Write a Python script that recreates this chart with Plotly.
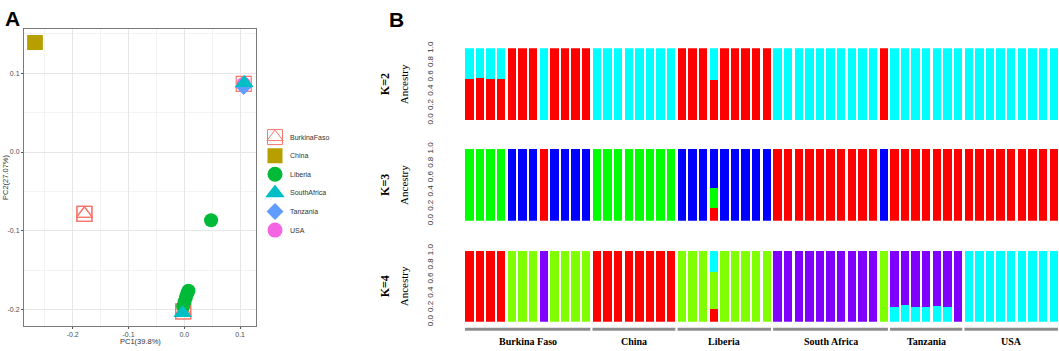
import plotly.graph_objects as go

# ---------------- Panel A data (PCA) ----------------
pca_pops = ["BurkinaFaso", "China", "Liberia", "SouthAfrica", "Tanzania", "USA"]
pca_colors = ["#F8766D", "#B79F00", "#00BA38", "#00BFC4", "#619CFF", "#F564E3"]

burkina_pc1 = [-0.179, -0.179, -0.002, -0.002, 0.1065]
burkina_pc2 = [-0.0785, -0.0785, -0.2025, -0.2025, 0.0865]
china_pc1 = [-0.2676, -0.2676, -0.2676]
china_pc2 = [0.139, 0.139, 0.139]
liberia_pc1 = [0.048, 0.0075, 0.0055, 0.003, 0.0005, -0.002]
liberia_pc2 = [-0.0867, -0.176, -0.179, -0.184, -0.19, -0.196]
southafrica_pc1 = [0.1075, 0.1075, -0.003]
southafrica_pc2 = [0.0875, 0.0875, -0.2045]
tanzania_pc1 = [0.1065, 0.1065]
tanzania_pc2 = [0.0825, 0.0825]
usa_pc1 = [0.1065, 0.1065]
usa_pc2 = [0.0865, 0.0865]

pc1_ticks = [-0.2, -0.1, 0.0, 0.1]
pc2_ticks = [-0.2, -0.1, 0.0, 0.1]

# ---------------- Panel B data (admixture) ----------------
groups = ["Burkina Faso", "China", "Liberia", "South Africa", "Tanzania", "USA"]
group_sizes = [12, 8, 9, 11, 7, 9]

k2_red = [0.563, 0.581, 0.563, 0.563, 1, 1, 1, 0, 1, 1, 1, 1,
          0, 0, 0, 0, 0, 0, 0, 0,
          1, 1, 1, 0.559, 1, 1, 1, 1, 1,
          0, 0, 0, 0, 0, 0, 0, 0, 0, 0, 1,
          0, 0, 0, 0, 0, 0, 0,
          0, 0, 0, 0, 0, 0, 0, 0, 0]
k2_cyan = [0.437, 0.419, 0.437, 0.437, 0, 0, 0, 1, 0, 0, 0, 0,
           1, 1, 1, 1, 1, 1, 1, 1,
           0, 0, 0, 0.441, 0, 0, 0, 0, 0,
           1, 1, 1, 1, 1, 1, 1, 1, 1, 1, 0,
           1, 1, 1, 1, 1, 1, 1,
           1, 1, 1, 1, 1, 1, 1, 1, 1]

k3_red = [0, 0, 0, 0, 0, 0, 0, 1, 0, 0, 0, 0,
          0, 0, 0, 0, 0, 0, 0, 0,
          0, 0, 0, 0.176, 0, 0, 0, 0, 0,
          1, 1, 1, 1, 1, 1, 1, 1, 1, 1, 0,
          1, 1, 1, 1, 1, 1, 1,
          1, 1, 1, 1, 1, 1, 1, 1, 1]
k3_green = [1, 1, 1, 1, 0, 0, 0, 0, 0, 0, 0, 0,
            1, 1, 1, 1, 1, 1, 1, 1,
            0, 0, 0, 0.274, 0, 0, 0, 0, 0,
            0, 0, 0, 0, 0, 0, 0, 0, 0, 0, 0,
            0, 0, 0, 0, 0, 0, 0,
            0, 0, 0, 0, 0, 0, 0, 0, 0]
k3_blue = [0, 0, 0, 0, 1, 1, 1, 0, 1, 1, 1, 1,
           0, 0, 0, 0, 0, 0, 0, 0,
           1, 1, 1, 0.55, 1, 1, 1, 1, 1,
           0, 0, 0, 0, 0, 0, 0, 0, 0, 0, 1,
           0, 0, 0, 0, 0, 0, 0,
           0, 0, 0, 0, 0, 0, 0, 0, 0]

k4_red = [1, 1, 1, 1, 0, 0, 0, 0, 0, 0, 0, 0,
          1, 1, 1, 1, 1, 1, 1, 1,
          0, 0, 0, 0.19, 0, 0, 0, 0, 0,
          0, 0, 0, 0, 0, 0, 0, 0, 0, 0, 0,
          0, 0, 0, 0, 0, 0, 0,
          0, 0, 0, 0, 0, 0, 0, 0, 0]
k4_green = [0, 0, 0, 0, 1, 1, 1, 0, 1, 1, 1, 1,
            0, 0, 0, 0, 0, 0, 0, 0,
            1, 1, 1, 0.52, 1, 1, 1, 1, 1,
            0, 0, 0, 0, 0, 0, 0, 0, 0, 0, 1,
            0, 0, 0, 0, 0, 0, 0,
            0, 0, 0, 0, 0, 0, 0, 0, 0]
k4_cyan = [0, 0, 0, 0, 0, 0, 0, 0, 0, 0, 0, 0,
           0, 0, 0, 0, 0, 0, 0, 0,
           0, 0, 0, 0.29, 0, 0, 0, 0, 0,
           0, 0, 0, 0, 0, 0, 0, 0, 0, 0, 0,
           0.205, 0.236, 0.214, 0.218, 0.227, 0.205, 0,
           1, 1, 1, 1, 1, 1, 1, 1, 1]
k4_purple = [0, 0, 0, 0, 0, 0, 0, 1, 0, 0, 0, 0,
             0, 0, 0, 0, 0, 0, 0, 0,
             0, 0, 0, 0, 0, 0, 0, 0, 0,
             1, 1, 1, 1, 1, 1, 1, 1, 1, 1, 0,
             0.795, 0.764, 0.786, 0.782, 0.773, 0.795, 1,
             0, 0, 0, 0, 0, 0, 0, 0, 0]

ancestry_ticks = [0.0, 0.2, 0.4, 0.6, 0.8, 1.0]
ancestry_ticktext = ["0.0", "0.2", "0.4", "0.6", "0.8", "1.0"]

# ---------------- Build figure ----------------
W, H = 1059, 351
def px_x(p):
    return p / W
def px_y(p):
    return 1 - p / H

fig = go.Figure()

# PCA traces
pca_series = [
    ("BurkinaFaso", burkina_pc1, burkina_pc2),
    ("USA", usa_pc1, usa_pc2),
    ("Tanzania", tanzania_pc1, tanzania_pc2),
    ("China", china_pc1, china_pc2),
    ("Liberia", liberia_pc1, liberia_pc2),
    ("SouthAfrica", southafrica_pc1, southafrica_pc2),
]
symbol_map = {"BurkinaFaso": "square-open", "China": "square", "Liberia": "circle",
              "SouthAfrica": "triangle-up", "Tanzania": "diamond", "USA": "circle"}
size_map = {"BurkinaFaso": 15, "China": 15, "Liberia": 14, "SouthAfrica": 16,
            "Tanzania": 12, "USA": 14}
for name, xs, ys in pca_series:
    c = pca_colors[pca_pops.index(name)]
    if name == "BurkinaFaso":
        fig.add_trace(go.Scatter(x=xs, y=ys, mode="markers", xaxis="x", yaxis="y",
                                 marker=dict(symbol="square-open", size=15, color=c,
                                             line=dict(width=1.2, color=c)),
                                 showlegend=False, hoverinfo="skip"))
        fig.add_trace(go.Scatter(x=xs, y=ys, mode="markers", xaxis="x", yaxis="y",
                                 marker=dict(symbol="triangle-up-open", size=14, color=c,
                                             line=dict(width=1.2, color=c)),
                                 showlegend=False, hoverinfo="skip"))
    else:
        fig.add_trace(go.Scatter(x=xs, y=ys, mode="markers", xaxis="x", yaxis="y",
                                 marker=dict(symbol=symbol_map[name], size=size_map[name],
                                             color=c, line=dict(width=0)),
                                 showlegend=False, hoverinfo="skip"))

# Manual legend for panel A (axes x5/y5)
for i, name in enumerate(pca_pops):
    c = pca_colors[i]
    if name == "BurkinaFaso":
        fig.add_trace(go.Scatter(x=[13], y=[i], mode="markers", xaxis="x5", yaxis="y5",
                                 marker=dict(symbol="square-open", size=15, color=c,
                                             line=dict(width=1, color=c)),
                                 showlegend=False, hoverinfo="skip"))
        fig.add_trace(go.Scatter(x=[13], y=[i], mode="markers", xaxis="x5", yaxis="y5",
                                 marker=dict(symbol="triangle-up-open", size=14, color=c,
                                             line=dict(width=1, color=c)),
                                 showlegend=False, hoverinfo="skip"))
    else:
        sz = {"China": 15, "Liberia": 15, "SouthAfrica": 17, "Tanzania": 13, "USA": 15}[name]
        fig.add_trace(go.Scatter(x=[13], y=[i], mode="markers", xaxis="x5", yaxis="y5",
                                 marker=dict(symbol=symbol_map[name], size=sz, color=c,
                                             line=dict(width=0)),
                                 showlegend=False, hoverinfo="skip"))
    fig.add_annotation(x=26, y=i, xref="x5", yref="y5", text=name, showarrow=False,
                       xanchor="left", yanchor="middle",
                       font=dict(family="Liberation Sans, Arial", size=7, color="#333333"))

# Admixture bars
positions = list(range(sum(group_sizes)))
k_sets = [
    ("x2", "y2", [(k2_red, "#FF0000"), (k2_cyan, "#00FFFF")]),
    ("x3", "y3", [(k3_red, "#FF0000"), (k3_green, "#00FF00"), (k3_blue, "#0000FF")]),
    ("x4", "y4", [(k4_red, "#FF0000"), (k4_green, "#80FF00"), (k4_cyan, "#00FFFF"), (k4_purple, "#8000FF")]),
]
for xa, ya, comps in k_sets:
    for vals, col in comps:
        fig.add_trace(go.Bar(x=positions, y=vals, xaxis=xa, yaxis=ya, width=0.79,
                             marker=dict(color=col, line=dict(width=0)),
                             showlegend=False, hoverinfo="skip"))

fig.update_layout(barmode="stack", bargap=0)

# Axes
grid_major = "#E6E6E6"
grid_minor = "#F3F3F3"
frame = "#7A7A7A"
tickfont_a = dict(family="Liberation Sans, Arial", size=7, color="#4D4D4D")

layout = dict(
    width=W, height=H,
    margin=dict(l=0, r=0, t=0, b=0),
    paper_bgcolor="white", plot_bgcolor="white",
    xaxis=dict(domain=[px_x(24), px_x(256)], range=[-0.2873, 0.1285], anchor="y",
               tickmode="array", tickvals=pc1_ticks, ticktext=["-0.2", "-0.1", "0.0", "0.1"],
               showgrid=True, gridcolor=grid_major, gridwidth=1,
               minor=dict(dtick=0.05, tick0=0, showgrid=True, gridcolor=grid_minor, gridwidth=1, ticks=""),
               showline=True, mirror=True, linecolor=frame, linewidth=1,
               ticks="outside", ticklen=2, tickcolor="#555555",
               tickfont=tickfont_a, zeroline=False),
    yaxis=dict(domain=[px_y(329), px_y(22.7)], range=[-0.2205, 0.1562], anchor="x",
               tickmode="array", tickvals=pc2_ticks, ticktext=["-0.2", "-0.1", "0.0", "0.1"],
               showgrid=True, gridcolor=grid_major, gridwidth=1,
               minor=dict(dtick=0.05, tick0=0, showgrid=True, gridcolor=grid_minor, gridwidth=1, ticks=""),
               showline=True, mirror=True, linecolor=frame, linewidth=1,
               ticks="outside", ticklen=2, tickcolor="#555555",
               tickfont=tickfont_a, zeroline=False),
    xaxis5=dict(domain=[px_x(262), px_x(330)], range=[0, 68], anchor="y5",
                visible=False, fixedrange=True),
    yaxis5=dict(domain=[px_y(240), px_y(125)], range=[5.505, -0.484], anchor="x5",
                visible=False, fixedrange=True),
)

k_domains = [(116.7, 42.7), (220.7, 146.7), (325, 251.7)]
for j, (bot, top) in enumerate(k_domains):
    n = j + 2
    layout[f"xaxis{n}"] = dict(domain=[px_x(463.9), 1.0], range=[-0.5, 55.5], anchor=f"y{n}",
                               visible=False, fixedrange=True)
    layout[f"yaxis{n}"] = dict(domain=[px_y(bot), px_y(top)], range=[0, 1], anchor=f"x{n}",
                               tickmode="array", tickvals=ancestry_ticks, ticktext=ancestry_ticktext,
                               tickangle=-90, ticks="", showgrid=False, zeroline=False,
                               showline=False, ticklabelstandoff=28,
                               tickfont=dict(family="Liberation Sans, Arial", size=8, color="#333333"),
                               fixedrange=True)
fig.update_layout(**layout)

# Annotations
serif = "Liberation Serif, Times New Roman"
for j, (bot, top) in enumerate(k_domains):
    yc = px_y((bot + top) / 2)
    fig.add_annotation(x=px_x(385), y=yc, xref="paper", yref="paper", text=f"<b>K={j+2}</b>",
                       textangle=-90, showarrow=False, xanchor="center", yanchor="middle",
                       font=dict(family=serif, size=12, color="black"))
    fig.add_annotation(x=px_x(404), y=yc, xref="paper", yref="paper", text="Ancestry",
                       textangle=-90, showarrow=False, xanchor="center", yanchor="middle",
                       font=dict(family=serif, size=11, color="black"))

# Group separators and labels under K=4
start = 0
for g, n in zip(groups, group_sizes):
    end = start + n - 1
    fig.add_shape(type="line", xref="x4", yref="paper", x0=start - 0.4, x1=end + 0.4,
                  y0=px_y(332.7), y1=px_y(332.7), line=dict(color="#8C8C8C", width=3))
    fig.add_annotation(x=(start + end) / 2, y=px_y(345), xref="x4", yref="paper",
                       text=f"<b>{g}</b>", showarrow=False, xanchor="center", yanchor="middle",
                       font=dict(family=serif, size=10, color="black"))
    start = end + 1

# Axis titles panel A
fig.add_annotation(x=px_x(140), y=px_y(345), xref="paper", yref="paper", text="PC1(39.8%)",
                   showarrow=False, xanchor="center", yanchor="middle",
                   font=dict(family="Liberation Sans, Arial", size=7.5, color="#333333"))
fig.add_annotation(x=px_x(5.5), y=px_y(176), xref="paper", yref="paper", text="PC2(27.07%)",
                   textangle=-90, showarrow=False, xanchor="center", yanchor="middle",
                   font=dict(family="Liberation Sans, Arial", size=7.5, color="#333333"))

# Panel letters
fig.add_annotation(x=px_x(12), y=px_y(12), xref="paper", yref="paper", text="<b>A</b>",
                   showarrow=False, xanchor="center", yanchor="middle",
                   font=dict(family="Liberation Sans, Arial", size=21, color="black"))
fig.add_annotation(x=px_x(396), y=px_y(12.5), xref="paper", yref="paper", text="<b>B</b>",
                   showarrow=False, xanchor="center", yanchor="middle",
                   font=dict(family="Liberation Sans, Arial", size=21, color="black"))

fig.write_html("out.html", config={"displayModeBar": False},
               post_script="document.body.style.margin='0';document.body.style.overflow='hidden';")
